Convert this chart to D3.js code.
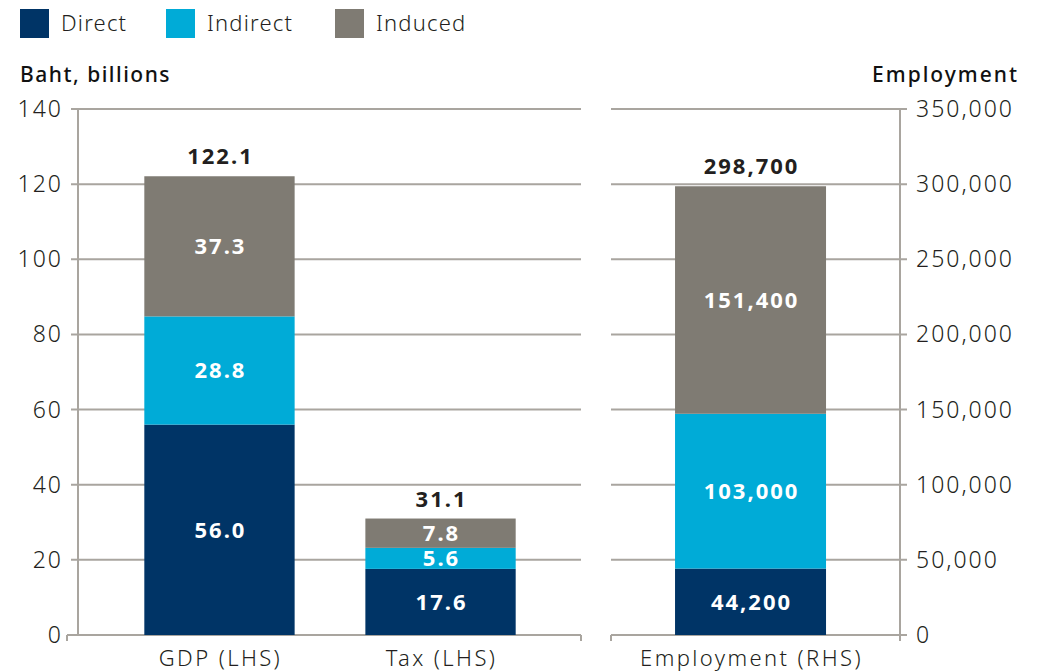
<!DOCTYPE html>
<html>
<head>
<meta charset="utf-8">
<script src="https://cdn.jsdelivr.net/npm/d3@7"></script>
<style>
    body { margin: 0; background: #fff; }
    text { font-family: "Noto Sans", Lato, sans-serif; }
</style>
</head>
<body>
<script>
    // data
    var seriesNames = ["Direct", "Indirect", "Induced"];
    var seriesColors = ["#003466", "#00abd7", "#7f7b73"];

    var leftCats = ["GDP (LHS)", "Tax (LHS)"];
    var leftDirect = [56.0, 17.6];
    var leftIndirect = [28.8, 5.6];
    var leftInduced = [37.3, 7.8];
    var leftTotals = [122.1, 31.1];
    var leftTicks = [0, 20, 40, 60, 80, 100, 120, 140];

    var rightCats = ["Employment (RHS)"];
    var rightDirect = [44200];
    var rightIndirect = [103000];
    var rightInduced = [151400];
    var rightTotals = [298700];
    var rightTicks = [0, 50000, 100000, 150000, 200000, 250000, 300000, 350000];

    var width = 1045, height = 672;
    var gridColor = "#a9a59f";
    var textColor = "#231f20";
    var fmtR = d3.format(",");

    var svg = d3.select("body").append("svg")
        .attr("width", width)
        .attr("height", height);

    var yL = d3.scaleLinear().domain([0, 140]).range([635, 109]);
    var yR = d3.scaleLinear().domain([0, 350000]).range([635, 109]);

    var xL = d3.scaleBand().domain(leftCats).range([78, 582])
        .paddingInner(0.32).paddingOuter(0.3);
    var xR = d3.scaleBand().domain(rightCats).range([611, 900])
        .paddingInner(0).paddingOuter(0.457).align(0.464);

    // legend
    var legend = svg.append("g");
    var legendX = [20, 166, 335];
    seriesNames.forEach(function(name, i){
        legend.append("rect")
            .attr("x", legendX[i]).attr("y", 9)
            .attr("width", 29).attr("height", 29)
            .attr("fill", seriesColors[i]);
        legend.append("text")
            .attr("x", legendX[i] + 41).attr("y", 31)
            .attr("font-size", 22).attr("font-weight", 300)
            .attr("letter-spacing", 1.2)
            .attr("fill", textColor)
            .text(name);
    });

    // axis titles
    svg.append("text")
        .attr("x", 20).attr("y", 82)
        .attr("font-size", 21).attr("font-weight", 500)
        .attr("letter-spacing", 1.5)
        .attr("fill", "#111")
        .text("Baht, billions");
    svg.append("text")
        .attr("x", 1017).attr("y", 82)
        .attr("text-anchor", "end")
        .attr("font-size", 21).attr("font-weight", 500)
        .attr("letter-spacing", 2)
        .attr("dx", 2)
        .attr("fill", "#111")
        .text("Employment");

    // gridlines, left panel
    svg.append("g").selectAll("line")
        .data(leftTicks)
        .enter().append("line")
        .attr("x1", d => d === 0 ? 67 : 71)
        .attr("x2", 581)
        .attr("y1", d => yL(d)).attr("y2", d => yL(d))
        .attr("stroke", gridColor).attr("stroke-width", 2);

    // gridlines, right panel
    svg.append("g").selectAll("line")
        .data(rightTicks)
        .enter().append("line")
        .attr("x1", 611)
        .attr("x2", 907)
        .attr("y1", d => yR(d)).attr("y2", d => yR(d))
        .attr("stroke", gridColor).attr("stroke-width", 2);

    // axis lines
    svg.append("line")
        .attr("x1", 78).attr("x2", 78).attr("y1", 109).attr("y2", 635)
        .attr("stroke", gridColor).attr("stroke-width", 2);
    svg.append("line")
        .attr("x1", 900).attr("x2", 900).attr("y1", 109).attr("y2", 641)
        .attr("stroke", gridColor).attr("stroke-width", 2);
    // end ticks on baselines
    [67, 581, 611].forEach(function(x){
        svg.append("line")
            .attr("x1", x).attr("x2", x).attr("y1", 635).attr("y2", 641)
            .attr("stroke", gridColor).attr("stroke-width", 2);
    });

    // tick labels
    svg.append("g").selectAll("text")
        .data(leftTicks)
        .enter().append("text")
        .attr("x", 63).attr("y", d => yL(d))
        .attr("dy", "0.35em")
        .attr("text-anchor", "end")
        .attr("font-size", 23).attr("font-weight", 300)
        .attr("letter-spacing", 2)
        .attr("fill", textColor)
        .text(d => d);
    svg.append("g").selectAll("text")
        .data(rightTicks)
        .enter().append("text")
        .attr("x", 916).attr("y", d => yR(d))
        .attr("dy", "0.35em")
        .attr("font-size", 23).attr("font-weight", 300)
        .attr("letter-spacing", 2)
        .attr("fill", textColor)
        .text(d => fmtR(d));

    // stacked bars
    function drawBars(cats, layers, totals, x, y, fmt){
        var g = svg.append("g");
        cats.forEach(function(cat, i){
            var base = 0;
            var cx = x(cat) + x.bandwidth() / 2;
            layers.forEach(function(arr, k){
                var v = arr[i];
                var y0 = y(base), y1 = y(base + v);
                g.append("rect")
                    .attr("x", x(cat)).attr("width", x.bandwidth())
                    .attr("y", y1).attr("height", y0 - y1)
                    .attr("fill", seriesColors[k]);
                g.append("text")
                    .attr("x", cx + 1)
                    .attr("y", (y0 + y1) / 2)
                    .attr("dy", "0.36em")
                    .attr("text-anchor", "middle")
                    .attr("font-size", 22).attr("font-weight", 700)
                    .attr("letter-spacing", 2)
                    .attr("fill", "#fff")
                    .text(fmt(v));
                base += v;
            });
            g.append("text")
                .attr("x", cx + 1)
                .attr("y", y(base) - 12)
                .attr("text-anchor", "middle")
                .attr("font-size", 22).attr("font-weight", 700)
                .attr("letter-spacing", 2)
                .attr("fill", textColor)
                .text(fmt(totals[i]));
            svg.append("text")
                .attr("x", cx + 1)
                .attr("y", 666)
                .attr("text-anchor", "middle")
                .attr("font-size", 22).attr("font-weight", 300)
                .attr("letter-spacing", 2.4)
                .attr("fill", textColor)
                .text(cat);
        });
    }

    drawBars(leftCats, [leftDirect, leftIndirect, leftInduced], leftTotals, xL, yL, d3.format(".1f"));
    drawBars(rightCats, [rightDirect, rightIndirect, rightInduced], rightTotals, xR, yR, fmtR);
</script>
</body>
</html>
